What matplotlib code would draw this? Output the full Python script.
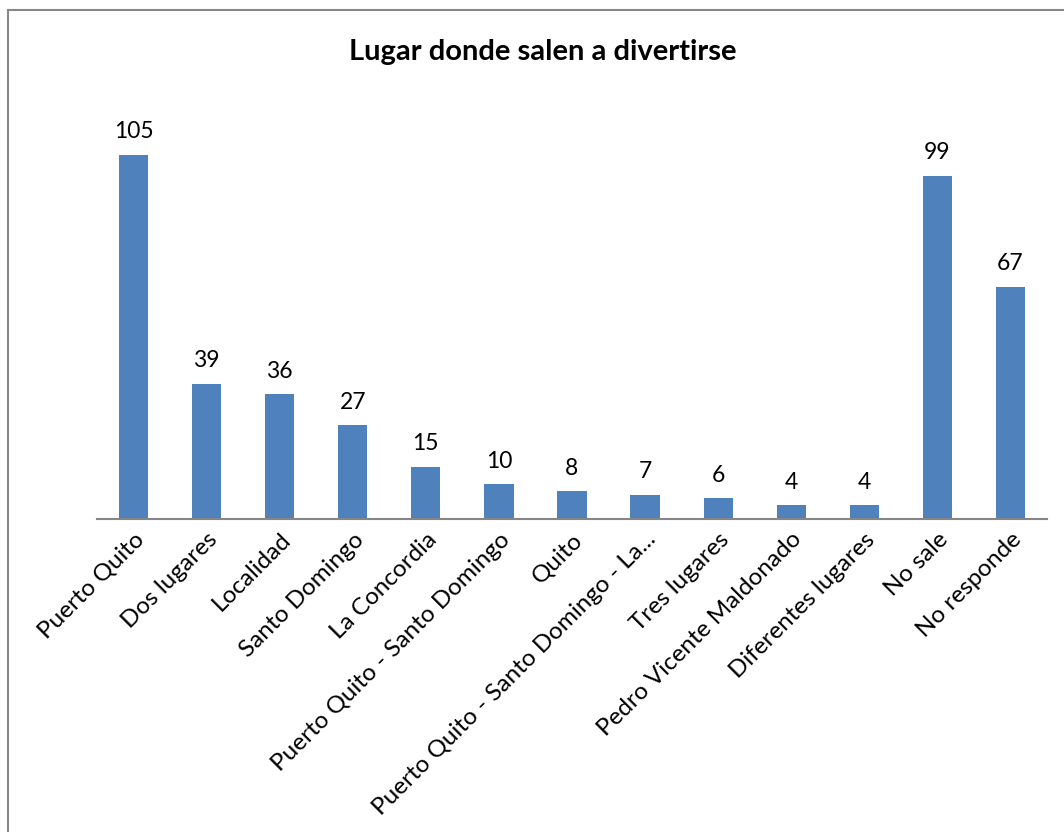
import matplotlib.pyplot as plt
from matplotlib.patches import Rectangle

categorias = ["Puerto Quito", "Dos lugares", "Localidad", "Santo Domingo",
              "La Concordia", "Puerto Quito - Santo Domingo", "Quito",
              "Puerto Quito - Santo Domingo - La...", "Tres lugares",
              "Pedro Vicente Maldonado", "Diferentes lugares", "No sale",
              "No responde"]
valores = [105, 39, 36, 27, 15, 10, 8, 7, 6, 4, 4, 99, 67]

plt.rcParams['font.family'] = ['Lato', 'DejaVu Sans']

W, H = 1064, 832
fig = plt.figure(figsize=(W / 100, H / 100), dpi=100)
ax = fig.add_axes([97 / W, 1 - 519 / H, (1047 - 97) / W, (519 - 103) / H])

x = range(len(categorias))
bars = ax.bar(x, valores, width=0.4, color="#4F81BD")
for b, v in zip(bars, valores):
    ax.annotate(str(v), (b.get_x() + b.get_width() / 2, v),
                xytext=(0, 9), textcoords="offset points",
                ha="center", va="bottom", fontsize=16.5)

ax.set_xlim(-0.5, len(categorias) - 0.5)
ax.set_ylim(0, 120)
ax.set_yticks([])
for s in ["top", "right", "left"]:
    ax.spines[s].set_visible(False)
ax.spines["bottom"].set_color("#868686")
ax.spines["bottom"].set_linewidth(1.5)
ax.set_xticks(list(x))
ax.set_xticklabels(categorias, rotation=45, ha="right",
                   rotation_mode="anchor", fontsize=17.5)
ax.tick_params(axis="x", length=0, pad=7)

fig.text(543 / W, 1 - 52 / H, "Lugar donde salen a divertirse",
         ha="center", va="center", fontsize=21, fontweight="bold")

fig.patches.append(Rectangle((8 / W, -0.1), 1.2, 1 - 10 / H + 0.1,
                             transform=fig.transFigure, fill=False,
                             edgecolor="#888888", linewidth=1.5))

fig.savefig("out.png", dpi=100)
